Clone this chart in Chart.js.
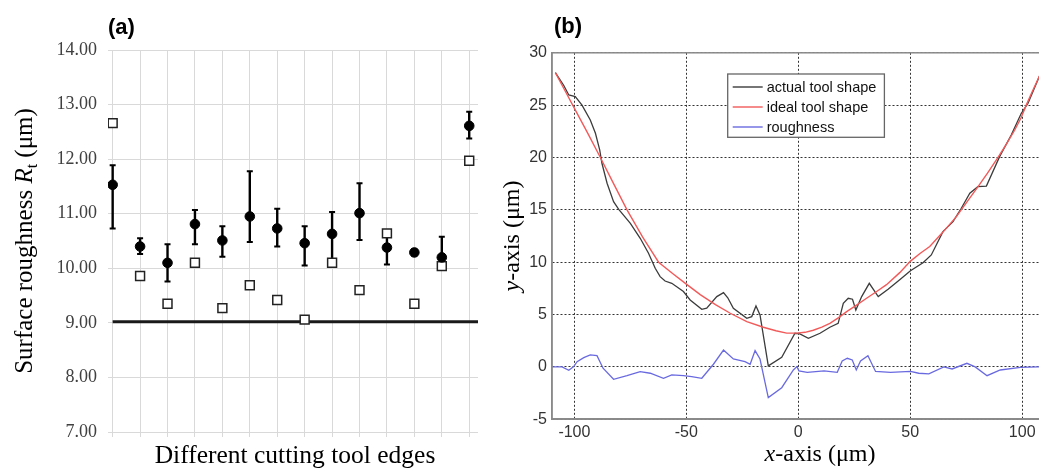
<!DOCTYPE html>
<html><head><meta charset="utf-8">
<script src="https://cdn.jsdelivr.net/npm/chart.js@4.4.1/dist/chart.umd.min.js"></script>
<style>
html,body{margin:0;padding:0;background:#fff;width:1039px;height:472px;overflow:hidden;}
#wa{position:absolute;left:0;top:0;width:520px;height:472px;}
#wb{position:absolute;left:500px;top:0;width:560px;height:472px;}
</style></head><body>
<div id="wa"><canvas id="ca" width="520" height="472"></canvas></div>
<div id="wb"><canvas id="cb" width="560" height="472"></canvas></div>
<script>
// ---------- Panel (a) data ----------
const edges      = [1, 2, 3, 4, 5, 6, 7, 8, 9, 10, 11, 12, 13, 14];
const meanRt     = [11.53, 10.40, 10.10, 10.81, 10.51, 10.95, 10.73, 10.46, 10.63, 11.01, 10.38, 10.29, 10.20, 12.61];
const errHigh    = [11.89, 10.55, 10.44, 11.07, 10.77, 11.78, 11.09, 10.77, 11.03, 11.56, 10.70, 10.35, 10.58, 12.87];
const errLow     = [10.73, 10.26, 9.76, 10.44, 10.21, 10.48, 10.40, 10.05, 10.14, 10.52, 10.07, 10.23, 10.02, 12.38];
const measuredRt = [12.66, 9.86, 9.35, 10.10, 9.27, 9.69, 9.42, 9.06, 10.10, 9.60, 10.64, 9.35, 10.04, 11.97];
const refRt      = 9.02;
const yTicksA    = [7, 8, 9, 10, 11, 12, 13, 14];

// ---------- Panel (b) data ----------
const actualX = [-108.5,-104.8,-102.5,-99.6,-96.6,-92.9,-90.6,-88.7,-87.7,-85.4,-82.5,-80.2,-75,-70.6,-66.9,-63.9,-61.7,-59.5,-56.5,-51.3,-48.3,-43.1,-40.9,-36.4,-33.4,-31.5,-29,-23,-20.8,-18.9,-17.1,-13.4,-7.4,-1.5,0.7,4.5,9.7,14.1,17.8,20.1,22.3,24.2,25.7,28.3,31.7,35.7,40.1,45.3,50.1,55.7,59.4,64.6,69.1,72.8,76.6,80.2,84,89.9,95.1,99.6,102.6,105,107.3,110];
const actualY = [28.1,26.9,25.97,25.81,25.0,23.58,22.31,20.72,19.45,17.54,15.78,15.05,13.71,12.28,10.85,9.42,8.62,8.2,7.98,7.2,6.39,5.5,5.6,6.71,7.09,6.6,5.6,4.64,4.8,5.82,4.96,0.09,0.92,3.21,3.15,2.73,3.21,3.78,4.16,6.07,6.55,6.46,5.43,6.71,7.98,6.71,7.41,8.33,9.19,9.95,10.69,12.92,13.87,15.15,16.58,17.21,17.27,20.08,22.15,24.22,25.18,26.4,27.56,28.9];
const idealX = [-108.5,-104,-99.5,-94,-88.4,-82.5,-76.5,-69.5,-62.4,-56,-50,-43.8,-37,-30.4,-23,-15.6,-10,-5.2,-0.6,3,6.7,10.5,14.1,18,21.6,26,30.5,35,39.4,45.3,50.1,54.5,58.7,64.5,70.6,75.5,80.2,84.5,89.2,93,96.6,99.5,101.8,104.5,107.3,110];
const idealY = [28.1,26.3,24.5,22.3,20.0,17.5,15.0,12.4,10.0,8.9,7.9,6.9,5.95,5.12,4.32,3.78,3.45,3.22,3.22,3.3,3.5,3.8,4.15,4.7,5.27,5.9,6.55,7.2,7.85,9.0,10.1,10.85,11.5,12.85,14.35,15.8,17.2,18.5,20.0,21.3,22.6,23.8,25.0,26.3,27.6,28.9];
const roughX = [-110,-105.5,-102.5,-100.3,-98.8,-95.8,-92.9,-89.9,-87.2,-82.5,-76.5,-70.6,-66.1,-60.2,-56.5,-51.3,-47.6,-43.1,-37.9,-33.4,-29,-23.8,-21.5,-19.3,-17.1,-13.4,-7.4,-2.2,-0.6,0.3,4,11.5,17.4,19.6,21.9,24.1,25.9,27.8,31.1,34.5,41.2,50.1,53.8,58.3,65,68.7,75.3,79,84.3,90.2,99.2,107.3,110];
const roughY = [0,0,-0.33,0.03,0.5,0.88,1.14,1.07,-0.13,-1.19,-0.84,-0.46,-0.61,-1.09,-0.77,-0.84,-0.93,-1.09,0.25,1.61,0.75,0.5,0.25,1.55,0.75,-2.94,-1.99,-0.3,0.02,-0.39,-0.52,-0.39,-0.52,0.56,0.82,0.66,-0.3,0.56,1.07,-0.44,-0.52,-0.44,-0.61,-0.67,0,-0.2,0.34,0,-0.84,-0.3,-0.05,0,0];
const xTicksB = [-100, -50, 0, 50, 100];
const yTicksB = [-5, 0, 5, 10, 15, 20, 25, 30];
const seriesLabels = ['actual tool shape', 'ideal tool shape', 'roughness'];

const toXY = (xs, ys) => xs.map((x, i) => ({x, y: ys[i]}));

function richText(ctx, segs, x, y, rot) {
  ctx.save();
  ctx.translate(x, y);
  if (rot) ctx.rotate(rot);
  let total = 0;
  segs.forEach(s => { ctx.font = s.font; s.w = ctx.measureText(s.text).width; total += s.w; });
  let cx = -total / 2;
  ctx.textAlign = 'left';
  ctx.textBaseline = 'alphabetic';
  segs.forEach(s => { ctx.font = s.font; ctx.fillStyle = s.color || '#000'; ctx.fillText(s.text, cx, s.dy || 0); cx += s.w; });
  ctx.restore();
}

const SERIF = '"Liberation Serif", "Times New Roman", serif';
const SANS = '"Liberation Sans", Arial, sans-serif';

// ---------- Panel (a) ----------
const errorBarPlugin = {
  id: 'errorBars',
  beforeDatasetsDraw(chart) {
    const {ctx, scales: {x, y}, chartArea} = chart;
    ctx.save();
    // reference line
    const ry = y.getPixelForValue(refRt);
    ctx.strokeStyle = '#1a1a1a';
    ctx.lineWidth = 2.8;
    ctx.beginPath();
    ctx.moveTo(x.getPixelForValue(edges[0]), ry);
    ctx.lineTo(chartArea.right, ry);
    ctx.stroke();
    // error bars
    ctx.strokeStyle = '#000';
    edges.forEach((e, i) => {
      const px = x.getPixelForValue(e);
      const y1 = y.getPixelForValue(errLow[i]);
      const y2 = y.getPixelForValue(errHigh[i]);
      ctx.lineWidth = 2.4;
      ctx.beginPath(); ctx.moveTo(px, y1); ctx.lineTo(px, y2); ctx.stroke();
      ctx.lineWidth = 2;
      ctx.beginPath();
      ctx.moveTo(px - 3, y1); ctx.lineTo(px + 3, y1);
      ctx.moveTo(px - 3, y2); ctx.lineTo(px + 3, y2);
      ctx.stroke();
    });
    ctx.restore();
  },
  afterDraw(chart) {
    const {ctx, chartArea: a} = chart;
    const f = SERIF;
    richText(ctx, [
      {text: 'Surface roughness ', font: '25px ' + f},
      {text: 'R', font: 'italic 25px ' + f},
      {text: 't', font: '16px ' + f, dy: 5},
      {text: ' (\u03bcm)', font: '25px ' + f}
    ], 31.5, (a.top + a.bottom) / 2, -Math.PI / 2);
    richText(ctx, [{text: 'Different cutting tool edges', font: '25.5px ' + f}], (a.left + a.right) / 2 + 2, 463, 0);
    ctx.save();
    ctx.font = 'bold 22px ' + SANS;
    ctx.fillStyle = '#000';
    ctx.textBaseline = 'middle';
    ctx.fillText('(a)', 108, 28);
    ctx.restore();
  }
};

new Chart(document.getElementById('ca'), {
  type: 'scatter',
  data: {
    datasets: [
      {label: 'Mean Rt', data: toXY(edges, meanRt), pointStyle: 'circle', pointRadius: 4.8, backgroundColor: '#000', borderColor: '#000', borderWidth: 1},
      {label: 'Rt', data: toXY(edges, measuredRt), pointStyle: 'rect', pointRadius: 6.3, backgroundColor: '#fff', borderColor: '#222', borderWidth: 1.5}
    ]
  },
  options: {
    responsive: false, animation: false, events: [],
    layout: {padding: {top: 50, right: 42, bottom: 0, left: 0}},
    plugins: {legend: {display: false}, tooltip: {enabled: false}},
    scales: {
      x: {
        type: 'linear', min: 0.83, max: 14.32,
        afterBuildTicks: s => { s.ticks = edges.map(v => ({value: v})); },
        ticks: {display: false},
        grid: {color: '#d9d9d9', lineWidth: 1, drawTicks: true, tickLength: 5},
        border: {display: false},
        afterFit: s => { s.height = 40; }
      },
      y: {
        type: 'linear', min: 7, max: 14,
        afterBuildTicks: s => { s.ticks = yTicksA.map(v => ({value: v})); },
        ticks: {callback: v => Number(v).toFixed(2), font: {family: SERIF, size: 18}, color: '#404040', padding: 11},
        grid: {color: '#d9d9d9', lineWidth: 1, drawTicks: false},
        border: {display: false},
        afterFit: s => { s.width = 108; }
      }
    }
  },
  plugins: [errorBarPlugin]
});

// ---------- Panel (b) ----------
const panelBPlugin = {
  id: 'panelB',
  afterDatasetsDraw(chart) {
    const {ctx, chartArea: a} = chart;
    ctx.save();
    ctx.strokeStyle = '#8a8a8a';
    ctx.lineWidth = 1.5;
    ctx.strokeRect(a.left, a.top, a.right - a.left, a.bottom - a.top);
    ctx.restore();
  },
  afterDraw(chart) {
    const {ctx, chartArea: a} = chart;
    // legend
    const bx = a.left + 175.7, by = a.top + 21.2, bw = 156.7, bh = 63.3;
    ctx.save();
    ctx.fillStyle = '#fff';
    ctx.fillRect(bx, by, bw, bh);
    ctx.strokeStyle = '#666';
    ctx.lineWidth = 1.3;
    ctx.strokeRect(bx, by, bw, bh);
    chart.data.datasets.forEach((ds, i) => {
      const ly = by + 13 + i * 20;
      ctx.strokeStyle = ds.borderColor;
      ctx.lineWidth = 1.4;
      ctx.beginPath(); ctx.moveTo(bx + 5, ly); ctx.lineTo(bx + 35, ly); ctx.stroke();
      ctx.fillStyle = '#111';
      ctx.font = '14.5px ' + SANS;
      ctx.textBaseline = 'middle';
      ctx.fillText(ds.label, bx + 39, ly + 1);
    });
    ctx.restore();
    // titles
    const f = SERIF;
    richText(ctx, [
      {text: 'y', font: 'italic 24px ' + f},
      {text: '-axis (\u03bcm)', font: '24px ' + f}
    ], 19, (a.top + a.bottom) / 2, -Math.PI / 2);
    richText(ctx, [
      {text: 'x', font: 'italic 24px ' + f},
      {text: '-axis (\u03bcm)', font: '24px ' + f}
    ], 320, 461, 0);
    ctx.save();
    ctx.font = 'bold 22px ' + SANS;
    ctx.fillStyle = '#000';
    ctx.textBaseline = 'middle';
    ctx.fillText('(b)', 54, 27);
    ctx.restore();
  }
};

const gridB = {color: '#333', lineWidth: 1, drawTicks: false};
const borderB = {display: true, color: '#8a8a8a', width: 1.5, dash: [2, 2]};

new Chart(document.getElementById('cb'), {
  type: 'scatter',
  data: {
    datasets: [
      {label: seriesLabels[0], data: toXY(actualX, actualY), showLine: true, pointRadius: 0, borderColor: '#3c3c3c', borderWidth: 1.3, order: 3},
      {label: seriesLabels[1], data: toXY(idealX, idealY), showLine: true, pointRadius: 0, borderColor: '#f25a5a', borderWidth: 1.4, order: 2},
      {label: seriesLabels[2], data: toXY(roughX, roughY), showLine: true, pointRadius: 0, borderColor: '#6a6ae0', borderWidth: 1.3, order: 1}
    ]
  },
  options: {
    responsive: false, animation: false, events: [],
    layout: {padding: {top: 52.8, right: 15.4, bottom: 0, left: 0}},
    plugins: {legend: {display: false}, tooltip: {enabled: false}},
    scales: {
      x: {
        type: 'linear', min: -110, max: 110,
        afterBuildTicks: s => { s.ticks = xTicksB.map(v => ({value: v})); },
        ticks: {font: {family: SANS, size: 16}, color: '#333', padding: 4, maxRotation: 0, autoSkip: false},
        grid: gridB, border: borderB,
        afterFit: s => { s.height = 52.8; }
      },
      y: {
        type: 'linear', min: -5, max: 30,
        afterBuildTicks: s => { s.ticks = yTicksB.map(v => ({value: v})); },
        ticks: {font: {family: SANS, size: 16}, color: '#333', padding: 5},
        grid: gridB, border: borderB,
        afterFit: s => { s.width = 52; }
      }
    }
  },
  plugins: [panelBPlugin]
});
</script></body></html>
